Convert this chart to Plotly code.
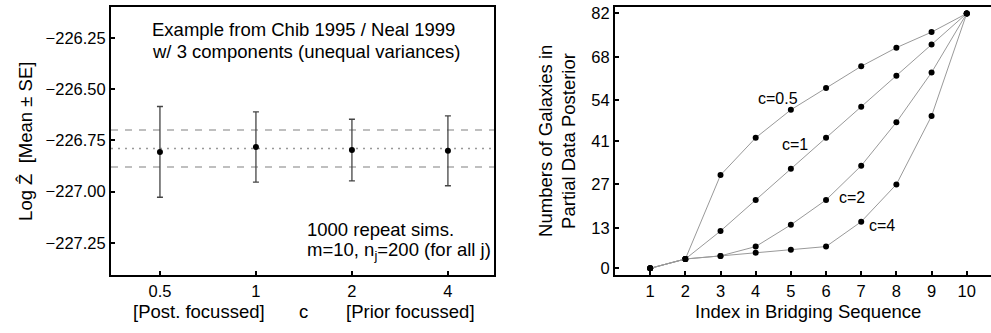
import plotly.graph_objects as go

# ---- Left panel data ----
c_labels = ["0.5", "1", "2", "4"]
c_pos = [1, 2, 3, 4]
logz_mean = [-226.806, -226.782, -226.797, -226.801]
logz_se = [0.221, 0.171, 0.150, 0.170]
ref_center = -226.79
ref_band = 0.09
left_yticks = [-226.25, -226.50, -226.75, -227.00, -227.25]

# ---- Right panel data ----
bridge_index = [1, 2, 3, 4, 5, 6, 7, 8, 9, 10]
galaxies_c05 = [0, 3, 30, 42, 51, 58, 65, 71, 76, 82]
galaxies_c1 = [0, 3, 12, 22, 32, 42, 52, 62, 72, 82]
galaxies_c2 = [0, 3, 4, 7, 14, 22, 33, 47, 63, 82]
galaxies_c4 = [0, 3, 4, 5, 6, 7, 15, 27, 49, 82]
series_names = ["c=0.5", "c=1", "c=2", "c=4"]
label_x = [4.64, 5.13, 6.74, 7.58]
label_y = [54.7, 40.0, 22.8, 13.7]
right_yticks = [0, 13, 27, 41, 54, 68, 82]

FONT = "Liberation Sans, Arial, Helvetica, sans-serif"
TICK_FS = 16.5
TXT_FS = 18.5

fig = go.Figure()

# reference lines (left)
for yv, dash, col in [(ref_center + ref_band, "7px,7px", "#aaaaaa"),
                      (ref_center, "2px,5px", "#999999"),
                      (ref_center - ref_band, "7px,7px", "#aaaaaa")]:
    fig.add_trace(go.Scatter(x=[0.49, 4.48], y=[yv, yv], mode="lines",
                             line=dict(color=col, width=1.5, dash=dash),
                             xaxis="x", yaxis="y", showlegend=False, hoverinfo="skip"))

fig.add_trace(go.Scatter(
    x=c_pos, y=logz_mean, mode="markers",
    marker=dict(color="black", size=6),
    error_y=dict(type="data", array=logz_se, color="#444444", thickness=1.3, width=3),
    xaxis="x", yaxis="y", showlegend=False))

# right panel series
for ys in [galaxies_c05, galaxies_c1, galaxies_c2, galaxies_c4]:
    fig.add_trace(go.Scatter(
        x=bridge_index, y=ys, mode="lines+markers",
        line=dict(color="#999999", width=1),
        marker=dict(color="black", size=6),
        xaxis="x2", yaxis="y2", showlegend=False))

axis_common = dict(showline=True, linecolor="black", linewidth=2, mirror=True,
                   ticks="inside", ticklen=4, tickwidth=2, tickcolor="black",
                   showgrid=False, zeroline=False,
                   tickfont=dict(family=FONT, size=TICK_FS, color="black"))


def txt(text, x, y, xref="paper", yref="paper", xanchor="center", size=TXT_FS, angle=0):
    return dict(text=text, x=x, y=y, xref=xref, yref=yref, xanchor=xanchor, yanchor="middle",
                textangle=angle, showarrow=False, align="left",
                font=dict(family=FONT, size=size, color="black"))


annotations = [
    txt("Example from Chib 1995 / Neal 1999", 150 / 991, 1 - 27 / 333, xanchor="left"),
    txt("w/ 3 components (unequal variances)", 150 / 991, 1 - 49 / 333, xanchor="left"),
    txt("1000 repeat sims.", 305 / 991, 1 - 230 / 333, xanchor="left"),
    txt("m=10, n<sub>j</sub>=200 (for all j)", 305 / 991, 1 - 252 / 333, xanchor="left"),
    txt("[Post. focussed]", 1.41, 1 - 313 / 333, xref="x"),
    txt("c", 2.5, 1 - 313 / 333, xref="x"),
    txt("[Prior focussed]", 3.61, 1 - 313 / 333, xref="x"),
    txt("Log Ẑ  [Mean ± SE]", 26 / 991, 1 - 141 / 333, angle=-90),
    txt("Numbers of Galaxies in", 546 / 991, 1 - 140 / 333, angle=-90),
    txt("Partial Data Posterior", 569 / 991, 1 - 140 / 333, angle=-90),
    txt("Index in Bridging Sequence", 808 / 991, 1 - 313 / 333),
]
for name, lx, ly in zip(series_names, label_x, label_y):
    annotations.append(txt(name, lx, ly, xref="x2", yref="y2", size=16))

ydom = [(333 - 276) / 333, (333 - 4) / 333]
fig.update_layout(
    width=991, height=333,
    margin=dict(l=0, r=0, t=0, b=0),
    paper_bgcolor="white", plot_bgcolor="white",
    xaxis=dict(domain=[111 / 991, 494 / 991], range=[0.49, 4.48],
               tickvals=c_pos, ticktext=c_labels, anchor="y", **axis_common),
    yaxis=dict(domain=ydom, range=[-227.405, -226.10], tickvals=left_yticks,
               tickformat=".2f", anchor="x", **axis_common),
    xaxis2=dict(domain=[615 / 991, 1.0], range=[0.0, 10.69], tickvals=bridge_index,
                anchor="y2", **{**axis_common, "mirror": True}),
    yaxis2=dict(domain=ydom, range=[-2.1, 84.1], tickvals=right_yticks, anchor="x2",
                **{**axis_common, "mirror": False}),
    annotations=annotations,
)

fig.write_html("out.html")
